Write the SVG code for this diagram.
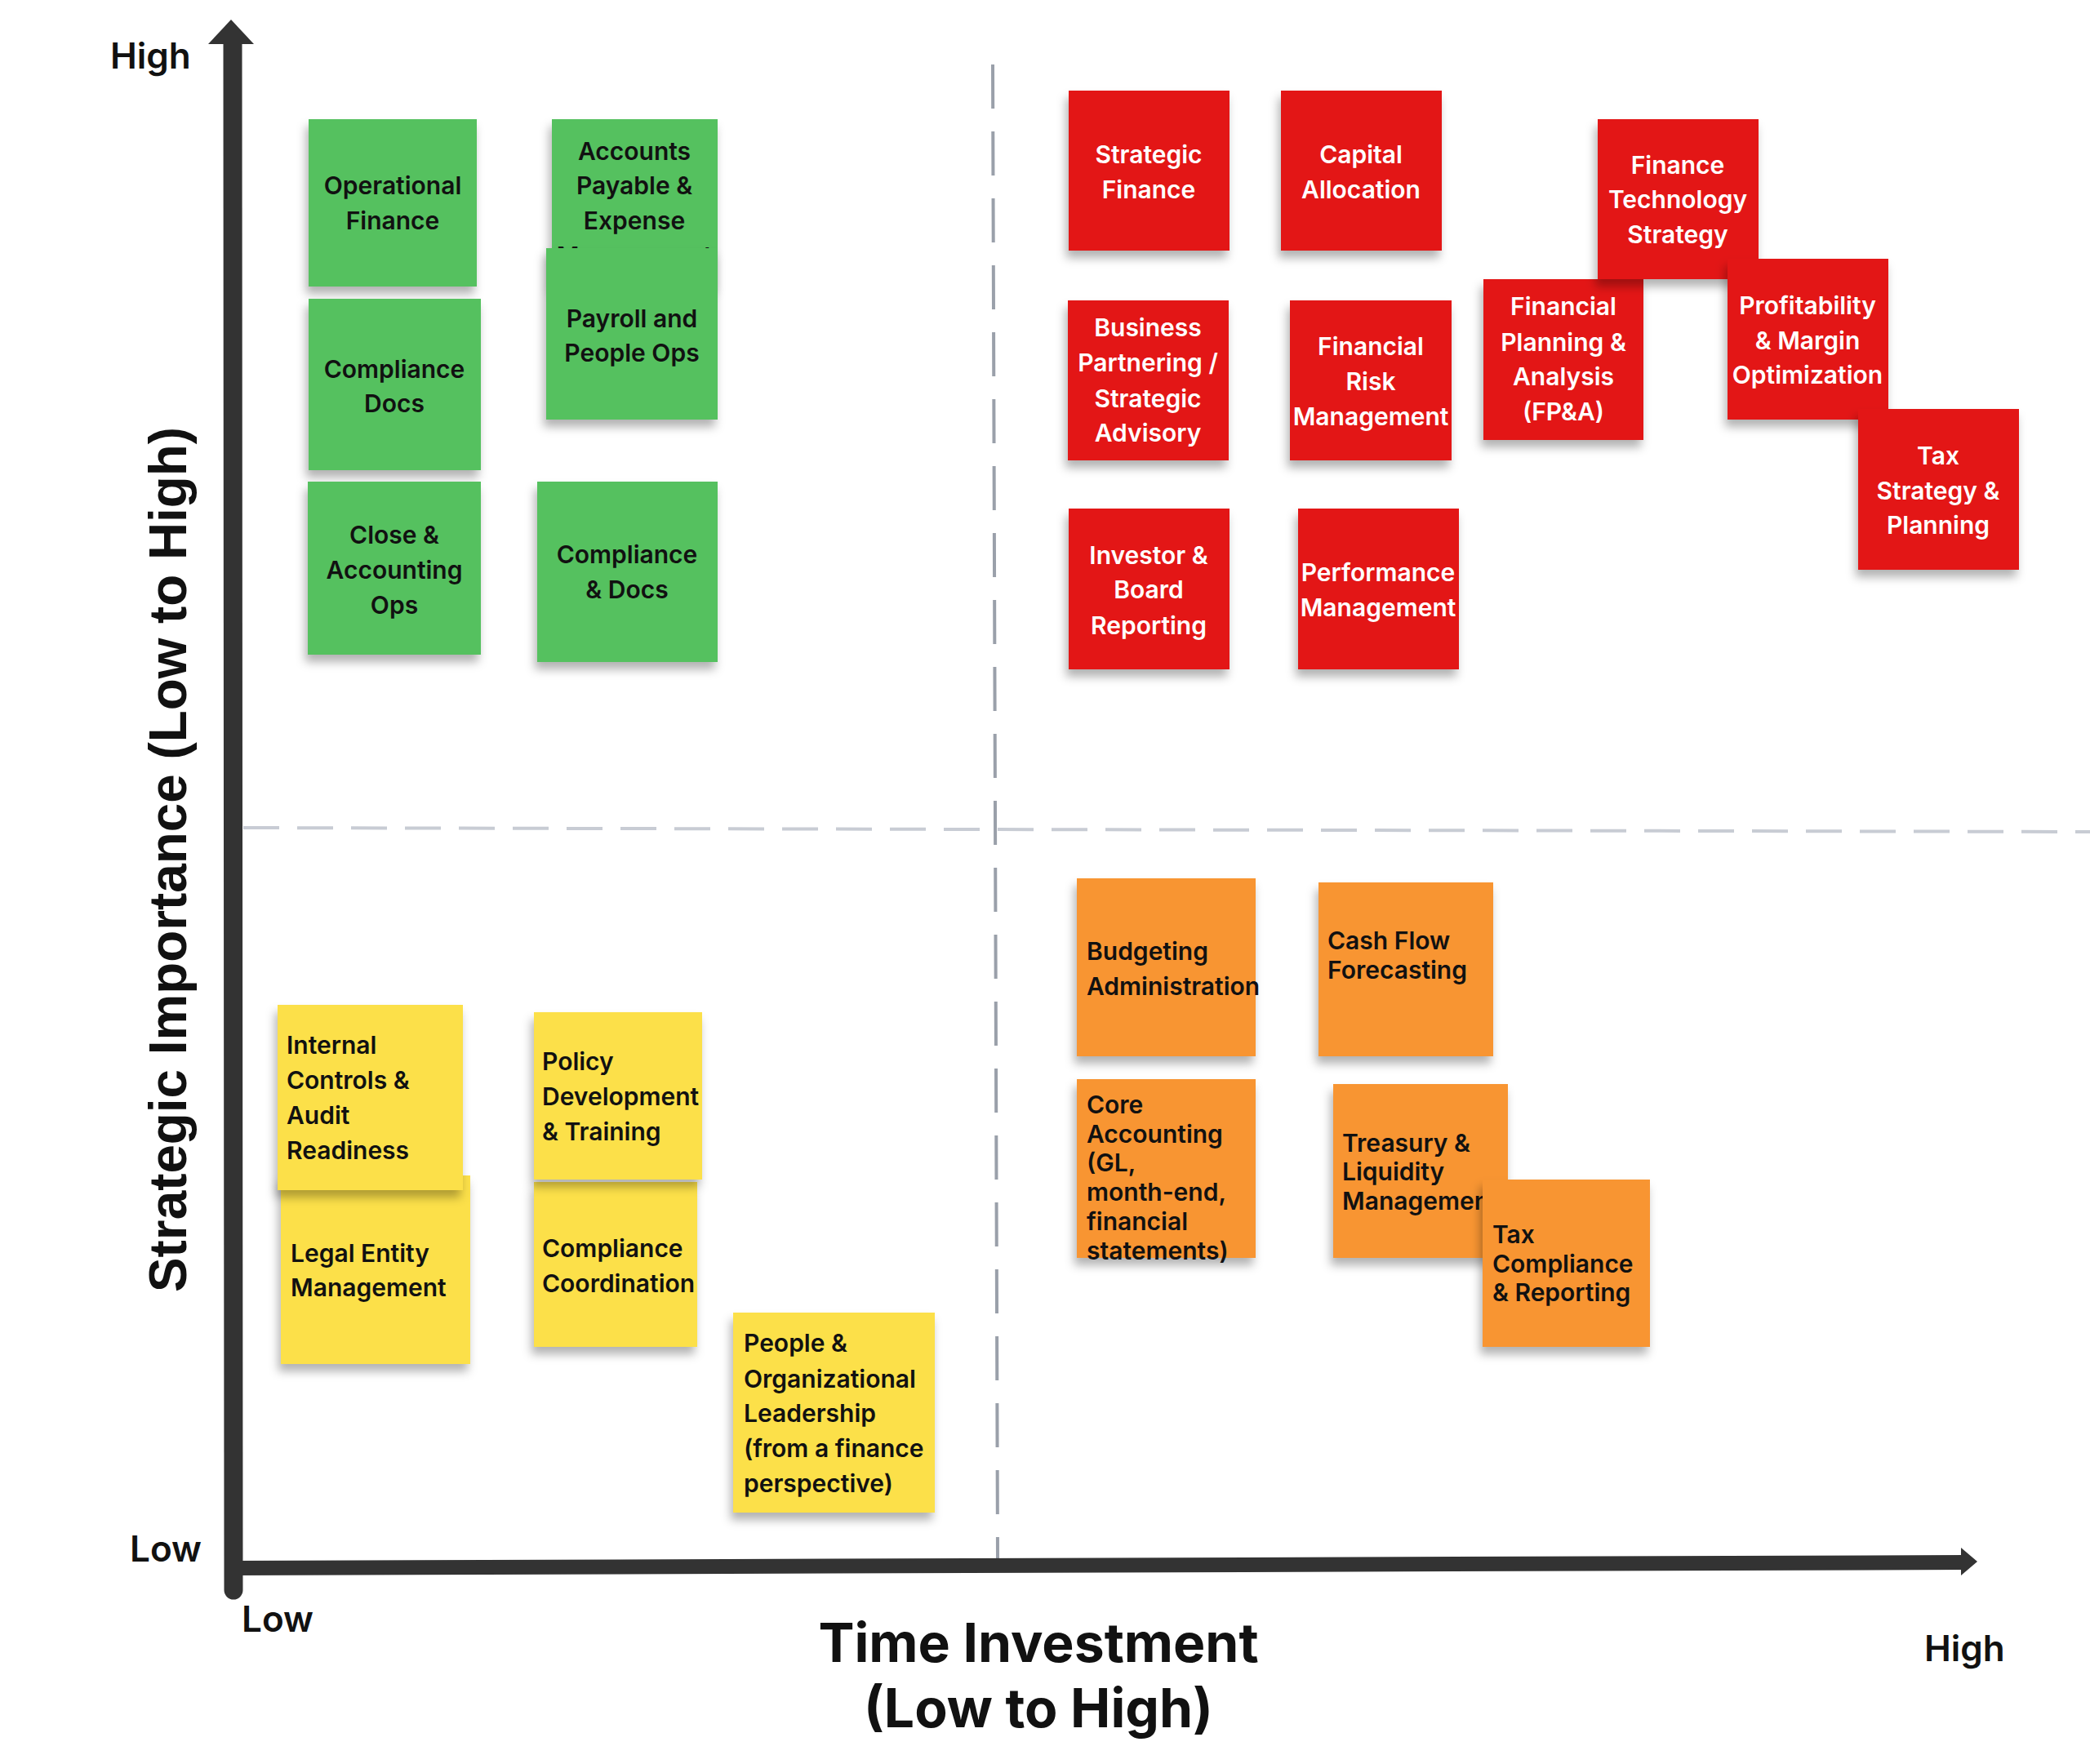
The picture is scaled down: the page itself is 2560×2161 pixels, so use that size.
<svg xmlns="http://www.w3.org/2000/svg" width="2560" height="2161" viewBox="0 0 2560 2161">
<defs>
<style>
.t{font-family:Inter,"Noto Sans",sans-serif;font-weight:600;font-size:30px}
.d{fill:#111}
.w{fill:#fff}
.c{text-anchor:middle}
.g{fill:#54c15e}
.r{fill:#e31616}
.y{fill:#fce048}
.o{fill:#f89532}
.lbl{font-family:Inter,"Noto Sans",sans-serif;font-weight:600;font-size:44px;fill:#111}
</style>
<filter id="sh" x="-10%" y="-10%" width="120%" height="130%">
<feDropShadow dx="-3" dy="9" stdDeviation="6" flood-color="#000" flood-opacity="0.3"/>
</filter>
<clipPath id="cb"><rect x="1319" y="1076" width="224" height="218"/></clipPath>
</defs>
<rect width="2560" height="2161" fill="#fff"/>

<g id="connectors">
<line x1="1216" y1="79" x2="1222" y2="1910" stroke="#9aa0aa" stroke-width="4" stroke-dasharray="54 28"/>
<line x1="298" y1="1014" x2="2560" y2="1019" stroke="#c8ccd4" stroke-width="4" stroke-dasharray="44 22"/>
<line x1="285" y1="50" x2="286" y2="1948" stroke="#333" stroke-width="23" stroke-linecap="round"/>
<polygon points="283,24 311,54 255,54" fill="#333"/>
<line x1="286" y1="1921" x2="2408" y2="1914" stroke="#333" stroke-width="18"/>
<polygon points="2402,1896 2422,1913 2402,1930" fill="#333"/>
</g>

<g id="labels">
<text class="lbl" x="135" y="84">High</text>
<text class="lbl" x="159" y="1913">Low</text>
<text class="lbl" x="296" y="1999">Low</text>
<text class="lbl" x="2357" y="2035">High</text>
<text x="1272" y="2036" font-family="Inter,'Noto Sans',sans-serif" font-weight="700" font-size="66" fill="#111" text-anchor="middle">Time Investment</text>
<text x="1272" y="2116" font-family="Inter,'Noto Sans',sans-serif" font-weight="700" font-size="66" fill="#111" text-anchor="middle">(Low to High)</text>
<text transform="translate(228,1053) rotate(-90)" font-family="'Liberation Sans',Arial,sans-serif" font-weight="700" font-size="64" fill="#111" text-anchor="middle" textLength="1060" lengthAdjust="spacingAndGlyphs">Strategic Importance (Low to High)</text>
</g>

<!-- green -->
<g id="n-operational-finance"><rect class="g" x="378" y="146" width="206" height="205" filter="url(#sh)"/><text class="t d c" x="481" y="238">Operational</text><text class="t d c" x="481" y="281">Finance</text></g>
<g id="n-accounts-payable"><rect class="g" x="676" y="146" width="203" height="205" filter="url(#sh)"/><text class="t d c" x="777" y="196">Accounts</text><text class="t d c" x="777" y="238">Payable &amp;</text><text class="t d c" x="777" y="281">Expense</text><text class="t d c" x="777" y="324">Management</text></g>
<g id="n-payroll"><rect class="g" x="669" y="304" width="210" height="210" filter="url(#sh)"/><text class="t d c" x="774" y="401">Payroll and</text><text class="t d c" x="774" y="443">People Ops</text></g>
<g id="n-compliance-docs"><rect class="g" x="378" y="366" width="211" height="210" filter="url(#sh)"/><text class="t d c" x="483" y="463">Compliance</text><text class="t d c" x="483" y="505">Docs</text></g>
<g id="n-close-accounting"><rect class="g" x="377" y="590" width="212" height="212" filter="url(#sh)"/><text class="t d c" x="483" y="666">Close &amp;</text><text class="t d c" x="483" y="709">Accounting</text><text class="t d c" x="483" y="752">Ops</text></g>
<g id="n-compliance-and-docs"><rect class="g" x="658" y="590" width="221" height="221" filter="url(#sh)"/><text class="t d c" x="768" y="690">Compliance</text><text class="t d c" x="768" y="733">&amp; Docs</text></g>

<!-- red -->
<g id="n-strategic-finance"><rect class="r" x="1309" y="111" width="197" height="196" filter="url(#sh)"/><text class="t w c" x="1407" y="200">Strategic</text><text class="t w c" x="1407" y="243">Finance</text></g>
<g id="n-capital-allocation"><rect class="r" x="1569" y="111" width="197" height="196" filter="url(#sh)"/><text class="t w c" x="1667" y="200">Capital</text><text class="t w c" x="1667" y="243">Allocation</text></g>
<g id="n-business-partnering"><rect class="r" x="1308" y="368" width="197" height="196" filter="url(#sh)"/><text class="t w c" x="1406" y="412">Business</text><text class="t w c" x="1406" y="455">Partnering /</text><text class="t w c" x="1406" y="499">Strategic</text><text class="t w c" x="1406" y="541">Advisory</text></g>
<g id="n-financial-risk"><rect class="r" x="1580" y="368" width="198" height="196" filter="url(#sh)"/><text class="t w c" x="1679" y="435">Financial</text><text class="t w c" x="1679" y="478">Risk</text><text class="t w c" x="1679" y="521">Management</text></g>
<g id="n-fpa"><rect class="r" x="1817" y="342" width="196" height="197" filter="url(#sh)"/><text class="t w c" x="1915" y="386">Financial</text><text class="t w c" x="1915" y="430">Planning &amp;</text><text class="t w c" x="1915" y="472">Analysis</text><text class="t w c" x="1915" y="515">(FP&amp;A)</text></g>
<g id="n-fintech"><rect class="r" x="1957" y="146" width="197" height="196" filter="url(#sh)"/><text class="t w c" x="2055" y="213">Finance</text><text class="t w c" x="2055" y="255">Technology</text><text class="t w c" x="2055" y="298">Strategy</text></g>
<g id="n-profitability"><rect class="r" x="2116" y="317" width="197" height="197" filter="url(#sh)"/><text class="t w c" x="2214" y="385">Profitability</text><text class="t w c" x="2214" y="428">&amp; Margin</text><text class="t w c" x="2214" y="470">Optimization</text></g>
<g id="n-tax-strategy"><rect class="r" x="2276" y="501" width="197" height="197" filter="url(#sh)"/><text class="t w c" x="2374" y="569">Tax</text><text class="t w c" x="2374" y="612">Strategy &amp;</text><text class="t w c" x="2374" y="654">Planning</text></g>
<g id="n-investor"><rect class="r" x="1309" y="623" width="197" height="197" filter="url(#sh)"/><text class="t w c" x="1407" y="691">Investor &amp;</text><text class="t w c" x="1407" y="733">Board</text><text class="t w c" x="1407" y="777">Reporting</text></g>
<g id="n-performance"><rect class="r" x="1590" y="623" width="197" height="197" filter="url(#sh)"/><text class="t w c" x="1688" y="712">Performance</text><text class="t w c" x="1688" y="755">Management</text></g>

<!-- yellow -->
<g id="n-legal-entity"><rect class="y" x="344" y="1440" width="232" height="231" filter="url(#sh)"/><text class="t d" x="356" y="1546">Legal Entity</text><text class="t d" x="356" y="1588">Management</text></g>
<g id="n-internal-controls"><rect class="y" x="340" y="1231" width="227" height="227" filter="url(#sh)"/><text class="t d" x="351" y="1291">Internal</text><text class="t d" x="351" y="1334">Controls &amp;</text><text class="t d" x="351" y="1377">Audit</text><text class="t d" x="351" y="1420">Readiness</text></g>
<g id="n-compliance-coordination"><rect class="y" x="654" y="1448" width="200" height="202" filter="url(#sh)"/><text class="t d" x="664" y="1540">Compliance</text><text class="t d" x="664" y="1583">Coordination</text></g>
<g id="n-policy"><rect class="y" x="654" y="1240" width="206" height="205" filter="url(#sh)"/><text class="t d" x="664" y="1311">Policy</text><text class="t d" x="664" y="1354">Development</text><text class="t d" x="664" y="1397">&amp; Training</text></g>
<g id="n-people"><rect class="y" x="898" y="1608" width="247" height="245" filter="url(#sh)"/><text class="t d" x="911" y="1656">People &amp;</text><text class="t d" x="911" y="1700">Organizational</text><text class="t d" x="911" y="1742">Leadership</text><text class="t d" x="911" y="1785">(from a finance</text><text class="t d" x="911" y="1828">perspective)</text></g>

<!-- orange -->
<g id="n-budgeting"><rect class="o" x="1319" y="1076" width="219" height="218" filter="url(#sh)"/><g clip-path="url(#cb)"><text class="t d" x="1331" y="1176">Budgeting</text><text class="t d" x="1331" y="1219">Administration</text></g></g>
<g id="n-cash-flow"><rect class="o" x="1615" y="1081" width="214" height="213" filter="url(#sh)"/><text class="t d" x="1626" y="1163">Cash Flow</text><text class="t d" x="1626" y="1199">Forecasting</text></g>
<g id="n-core-accounting"><rect class="o" x="1319" y="1322" width="219" height="219" filter="url(#sh)"/><text class="t d" x="1331" y="1364">Core</text><text class="t d" x="1331" y="1400">Accounting</text><text class="t d" x="1331" y="1435">(GL,</text><text class="t d" x="1331" y="1471">month-end,</text><text class="t d" x="1331" y="1507">financial</text><text class="t d" x="1331" y="1543">statements)</text></g>
<g id="n-treasury"><rect class="o" x="1633" y="1328" width="214" height="213" filter="url(#sh)"/><text class="t d" x="1644" y="1411">Treasury &amp;</text><text class="t d" x="1644" y="1446">Liquidity</text><text class="t d" x="1644" y="1482">Management</text></g>
<g id="n-tax-compliance"><rect class="o" x="1816" y="1445" width="205" height="205" filter="url(#sh)"/><text class="t d" x="1828" y="1523">Tax</text><text class="t d" x="1828" y="1559">Compliance</text><text class="t d" x="1828" y="1594">&amp; Reporting</text></g>
</svg>
